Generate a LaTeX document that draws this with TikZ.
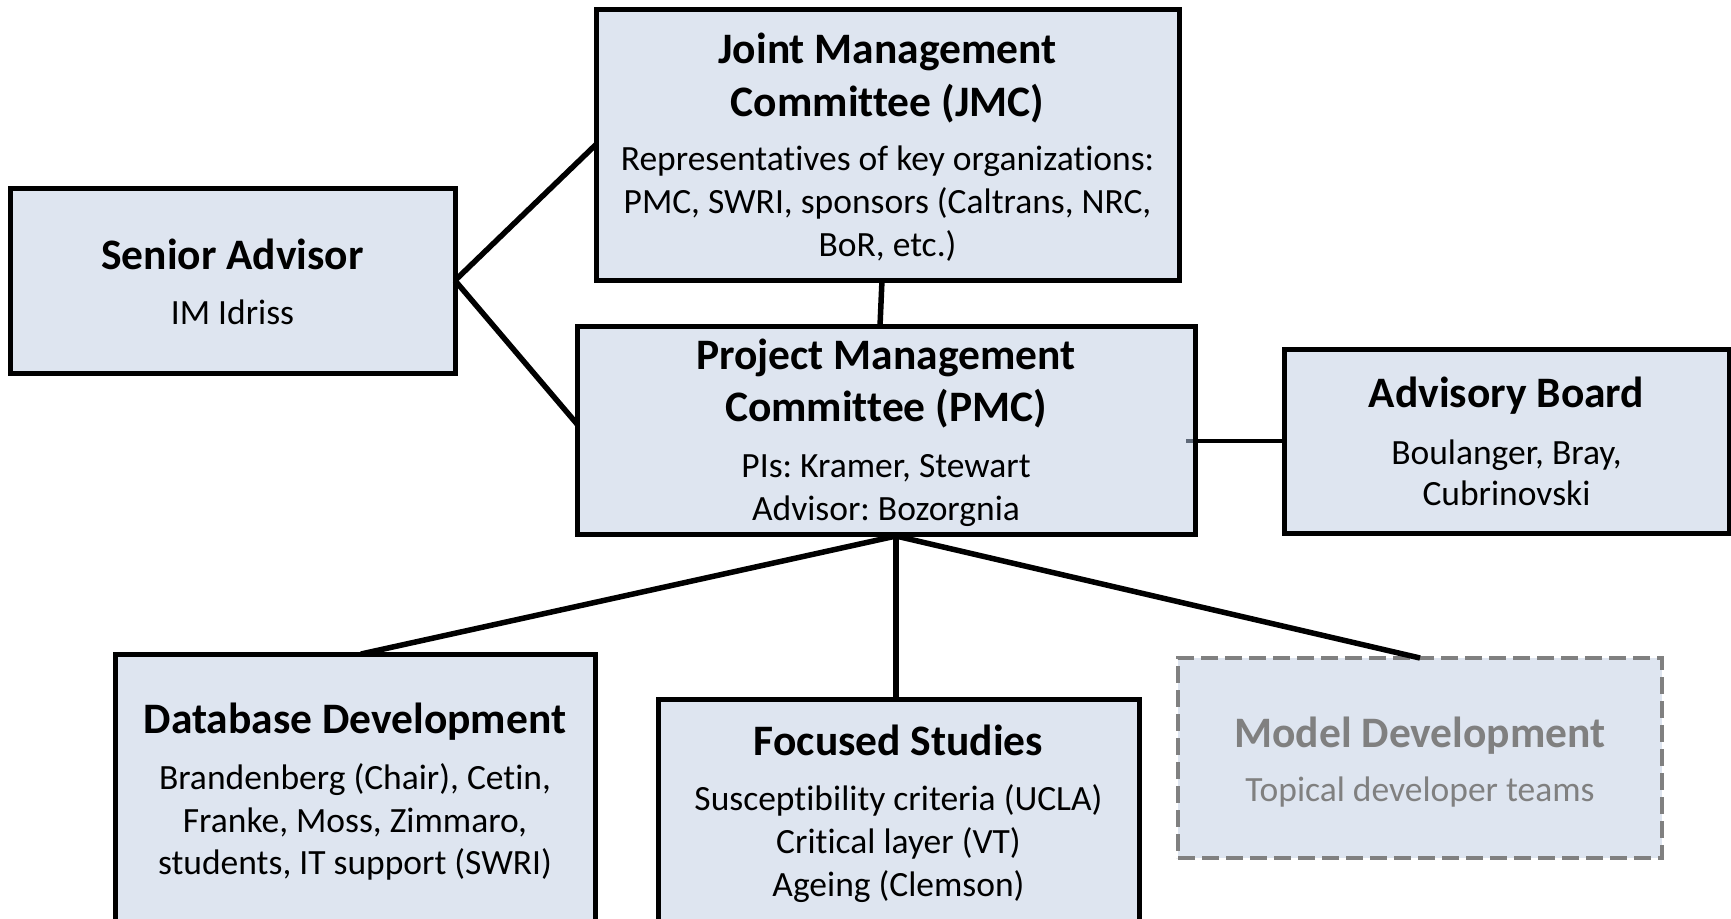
\documentclass[tikz,border=0pt]{standalone}
\usepackage{fontspec}
\setmainfont{Carlito}[Ligatures=NoCommon]
\usetikzlibrary{calc}
\definecolor{boxfill}{RGB}{222,229,240}
\definecolor{faded}{RGB}{128,128,128}
\definecolor{stubgray}{RGB}{95,105,120}
\frenchspacing
\begin{document}
\begin{tikzpicture}[x=1pt,y=-1pt,
  orgbox/.style={draw=black,line width=5pt,fill=boxfill,rectangle,inner sep=0pt,outer sep=0pt},
  ghostbox/.style={draw=faded,line width=4.5pt,fill=boxfill,rectangle,inner sep=0pt,outer sep=0pt,
    dash pattern=on 17pt off 7pt},
  title/.style={anchor=base,inner sep=0pt,font=\fontsize{43.5}{52}\selectfont\bfseries},
  body/.style={anchor=base,inner sep=0pt,font=\fontsize{35.5}{43}\selectfont},
  link/.style={line width=5.5pt,black}]
\useasboundingbox (0,0) rectangle (1731,918);

% boxes
\node[orgbox,minimum width=445pt,minimum height=185pt] (sa)  at (232.5,280.5) {};
\node[orgbox,minimum width=583pt,minimum height=271pt] (jmc) at (887.5,144.5) {};
\node[orgbox,minimum width=618pt,minimum height=208pt] (pmc) at (886,430) {};
\node[orgbox,minimum width=445pt,minimum height=184pt] (ab)  at (1506.5,441) {};
\node[orgbox,minimum width=480pt,minimum height=274pt] (db)  at (355,791) {};
\node[orgbox,minimum width=481pt,minimum height=231pt] (fs)  at (898.5,814.5) {};
\node[ghostbox,minimum width=484pt,minimum height=200pt] (md) at (1420,758) {};

% connectors
\draw[link] (sa.east) -- (jmc.west);
\draw[link] (sa.east) -- ([yshift=6pt]pmc.west);
\draw[link] ([xshift=-5.5pt]jmc.south) -- ([xshift=-6pt]pmc.north);
\draw[link,line width=4.5pt] (pmc.east |- ab.west) -- (ab.west);
\draw[stubgray,line width=4.5pt] ([xshift=-9pt]pmc.east |- ab.west) -- ([xshift=-2.5pt]pmc.east |- ab.west);
\coordinate (fan) at ([xshift=10pt,yshift=-2pt]pmc.south);
\draw[link] (fan) -- ([xshift=6pt]db.north);
\draw[link] (fan) -- ([xshift=-2.5pt]fs.north);
\draw[link] (fan) -- (md.north);

% Senior Advisor
\node[title] (sa-t) at (232.5,269) {Senior Advisor};
\node[body]  (sa-b) at (232.5,324.5) {IM Idriss};

% Joint Management Committee
\node[title] (jmc-t1) at (887.5,63.6) {Joint Management};
\node[title] (jmc-t2) at (887.5,116) {Committee (JMC)};
\node[body]  (jmc-b1) at (887.5,170.7) {Representatives of key organizations:};
\node[body]  (jmc-b2) at (887.5,213.6) {PMC, SWRI, sponsors (Caltrans, NRC,};
\node[body]  (jmc-b3) at (887.5,256.4) {BoR, etc.)};

% Project Management Committee
\node[title] (pmc-t1) at (886,369.6) {Project Management};
\node[title] (pmc-t2) at (886,421) {Committee (PMC)};
\node[body]  (pmc-b1) at (886,477) {PIs: Kramer, Stewart};
\node[body]  (pmc-b2) at (886,520) {Advisor: Bozorgnia};

% Advisory Board
\node[title] (ab-t)  at (1506.5,407) {Advisory Board};
\node[body]  (ab-b1) at (1506.5,464) {Boulanger, Bray,};
\node[body]  (ab-b2) at (1506.5,505.6) {Cubrinovski};

% Database Development
\node[title] (db-t)  at (355,733) {Database Development};
\node[body]  (db-b1) at (355,789) {Brandenberg (Chair), Cetin,};
\node[body]  (db-b2) at (355,832) {Franke, Moss, Zimmaro,};
\node[body]  (db-b3) at (355,874) {students, IT support (SWRI)};

% Focused Studies
\node[title] (fs-t)  at (898.5,755) {Focused Studies};
\node[body]  (fs-b1) at (898.5,810) {Susceptibility criteria (UCLA)};
\node[body]  (fs-b2) at (898.5,853) {Critical layer (VT)};
\node[body]  (fs-b3) at (898.5,896) {Ageing (Clemson)};

% Model Development
\node[title,text=faded] (md-t) at (1420,747) {Model Development};
\node[body,text=faded]  (md-b) at (1420,801) {Topical developer teams};
\end{tikzpicture}
\end{document}
